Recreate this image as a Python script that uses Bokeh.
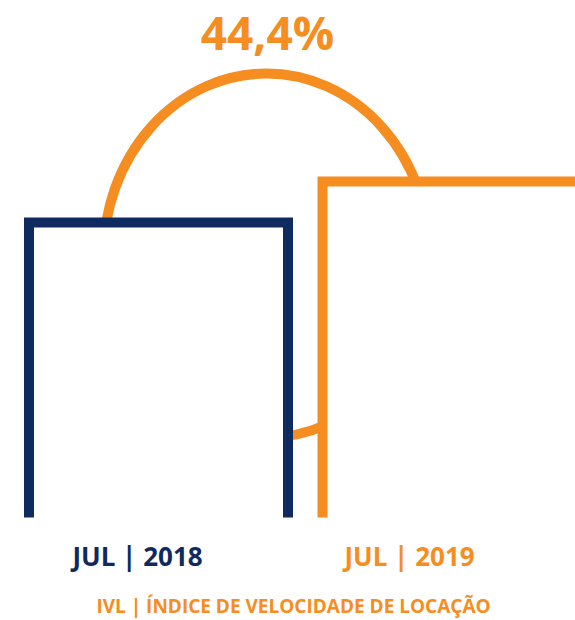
from bokeh.plotting import figure
from bokeh.models import Range1d, ColumnDataSource
from bokeh.core.properties import value
from bokeh.embed import file_html
from bokeh.resources import INLINE

# ---- data ----
categories = ["JUL | 2018", "JUL | 2019"]
bar_values = [295, 336]          # relative bar heights as drawn
change_label = "44,4%"
subtitle = "IVL | ÍNDICE DE VELOCIDADE DE LOCAÇÃO"

NAVY = "#0E2A5E"
ORANGE = "#F68D20"
colors = [NAVY, ORANGE]

# layout (pixel-like data units, 1:1 with screen)
W, H = 575, 620
BASE = 517
bar_left = [28.5, 322]
bar_width = 259
label_x = [137, 409]

p = figure(width=W, height=H, x_range=Range1d(0, W), y_range=Range1d(BASE - H, BASE),
           output_backend="svg", toolbar_location=None, min_border=0)
p.axis.visible = False
p.grid.visible = False
p.outline_line_color = None
p.background_fill_color = "white"
p.border_fill_color = "white"

# connecting ellipse (mostly hidden behind the bars)
p.ellipse(x=[266], y=[BASE - 255], width=[326], height=[364],
          fill_color=None, line_color=ORANGE, line_width=10)

# white bar interiors
lefts = bar_left
rights = [l + bar_width for l in bar_left]
p.quad(left=lefts, right=rights, bottom=[0, 0], top=bar_values,
       fill_color="white", line_color=None)

# three-sided bar outlines
for l, r, v, c in zip(lefts, rights, bar_values, colors):
    p.line(x=[l, l, r, r], y=[0, v, v, 0], line_color=c, line_width=10,
           line_join="miter", line_cap="butt")

# change label
p.text(x=[267], y=[BASE - 31], text=[change_label], text_color=ORANGE,
       text_font=value("Open Sans"), text_font_style="bold", text_font_size="46px",
       text_align="center", text_baseline="middle")

# category labels
src = ColumnDataSource(dict(x=label_x, y=[-38, -38], t=categories, c=colors))
p.text(x="x", y="y", text="t", text_color="c", source=src,
       text_font=value("Open Sans"), text_font_style="bold", text_font_size="26px",
       text_align="center", text_baseline="middle")

# subtitle
p.text(x=[293], y=[BASE - 605], text=[subtitle], text_color=ORANGE,
       text_font=value("Open Sans"), text_font_style="bold", text_font_size="19px",
       text_align="center", text_baseline="middle")

open("out.html", "w").write(file_html(p, INLINE))
